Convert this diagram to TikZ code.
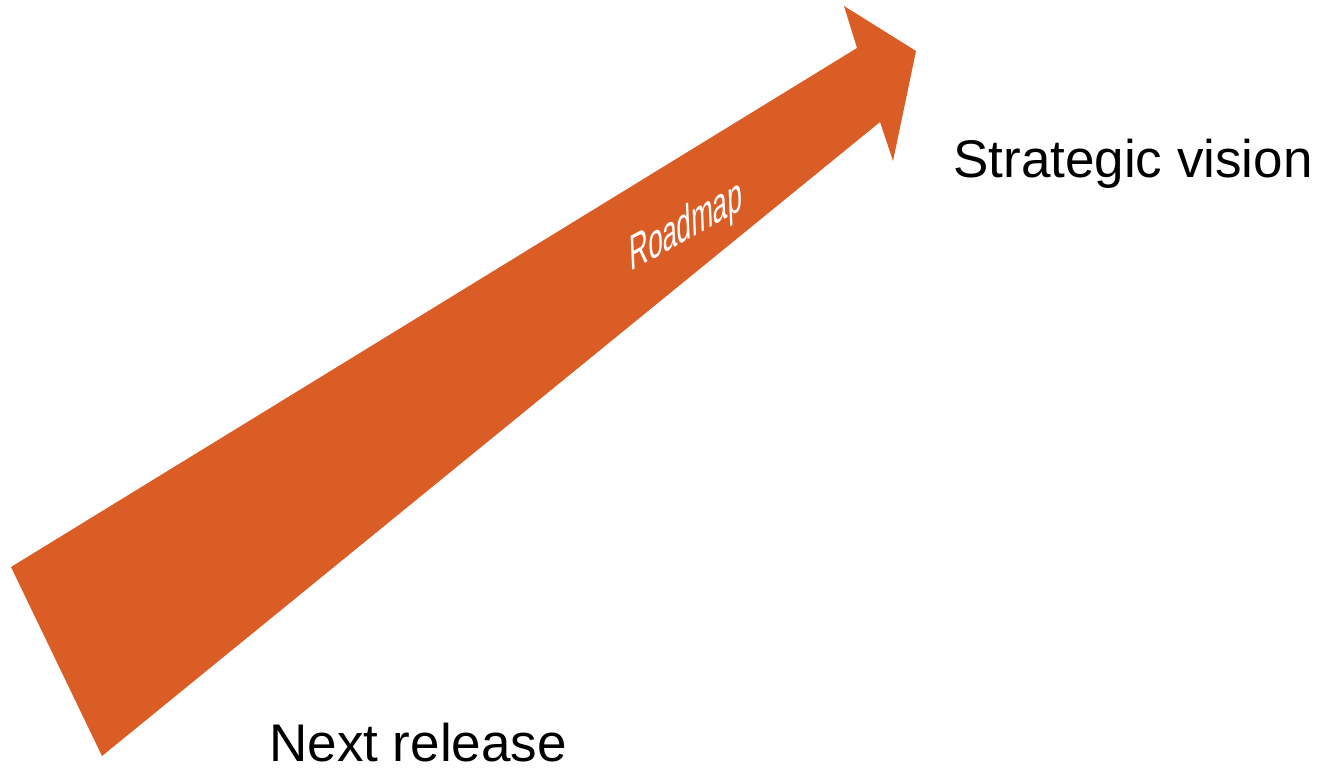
\documentclass[tikz,border=0pt]{standalone}
\usepackage{fontspec}
\setmainfont{Liberation Sans}
\definecolor{arroworange}{RGB}{218,93,38}
\tikzset{
  bigarrow/.style={fill=arroworange, draw=none},
  biglabel/.style={font=\fontsize{39.75}{48}\selectfont, text=black, inner sep=0pt, anchor=base west, text depth=0pt},
  arrowlabel/.style={font=\fontsize{27}{32}\selectfont, text=white, inner sep=0pt, transform shape}
}
\begin{document}
\begin{tikzpicture}[x=0.75pt,y=-0.75pt]
\useasboundingbox (0,0) rectangle (1318,768);
\fill[white] (0,0) rectangle (1318,768);
\path[bigarrow] (11,567) -- (857,48) -- (844,6) -- (916,51) -- (893,161) -- (880,122) -- (102,756) -- cycle;
\begin{scope}[shift={(686,228)}]
  \node[arrowlabel, cm={0.72,0.40,-0.06,1.37,(0,0)}] (roadmap) at (0,0) {Roadmap};
\end{scope}
\node[biglabel] (vision) at (953,177.5) {Strategic vision};
\node[biglabel] (release) at (269,761) {Next release};
\end{tikzpicture}
\end{document}
